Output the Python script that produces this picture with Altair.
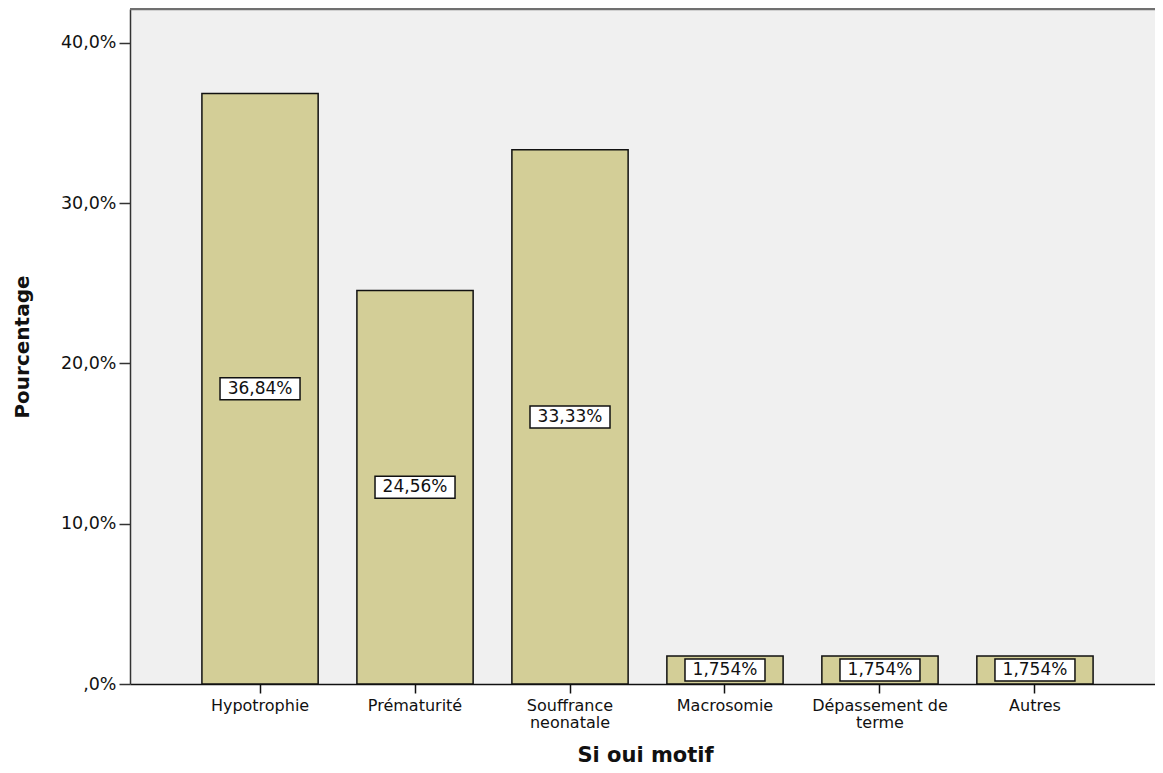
import altair as alt
import pandas as pd

categories = ["Hypotrophie", "Prématurité", "Souffrance\nneonatale",
              "Macrosomie", "Dépassement de\nterme", "Autres"]
percentages = [36.84, 24.56, 33.33, 1.754, 1.754, 1.754]
value_labels = ["36,84%", "24,56%", "33,33%", "1,754%", "1,754%", "1,754%"]
y_ticks = [0, 10, 20, 30, 40]

df = pd.DataFrame({"cat": categories, "pct": percentages, "lab": value_labels})

FONT = "DejaVu Sans"
W, H = 1025, 675
YMAX = 42.12

xscale = alt.Scale(range=[0, 1035], paddingInner=0.25, paddingOuter=0.464)
yscale = alt.Scale(domain=[0, YMAX], nice=False)

xenc = alt.X("cat:N", sort=categories, scale=xscale,
             axis=alt.Axis(title="Si oui motif", labelAngle=0,
                           labelExpr="split(datum.label, '\\n')",
                           labelFont=FONT, labelFontSize=16, labelColor="#111",
                           labelLineHeight=17.5, labelPadding=4,
                           tickSize=9, tickColor="#111", tickWidth=1.5,
                           domainColor="#111", domainWidth=1.5,
                           titleFont=FONT, titleFontSize=21, titleFontWeight="bold",
                           titleColor="#111", titleX=515, titleY=71,
                           titleBaseline="middle", titleAnchor="middle"))

bars = alt.Chart(df).mark_bar(color="#D3CE97", stroke="#111", strokeWidth=1.5).encode(
    x=xenc,
    y=alt.Y("pct:Q", scale=yscale,
            axis=alt.Axis(title="Pourcentage", values=y_ticks, grid=False,
                          labelExpr="datum.value == 0 ? ',0%' : replace(format(datum.value, '.1f'), '.', ',') + '%'",
                          labelFont=FONT, labelFontSize=17.5, labelColor="#111",
                          labelPadding=3, tickSize=11, tickColor="#333", tickWidth=1.5,
                          domainColor="#333", domainWidth=1.5,
                          titleFont=FONT, titleFontSize=20, titleFontWeight="bold",
                          titleColor="#111", titleAngle=-90, titleX=-108, titleY=H / 2,
                          titleBaseline="middle", titleAnchor="middle")),
)

box_path = "M-1,-0.275L1,-0.275L1,0.275L-1,0.275Z"
boxes = alt.Chart(df).transform_calculate(mid="datum.pct / 2").mark_point(
    shape=box_path, size=80 * 80, filled=True, fill="white", stroke="#111",
    strokeWidth=1.5, opacity=1).encode(
    x=alt.X("cat:N", sort=categories, scale=xscale),
    y=alt.Y("mid:Q", scale=yscale),
)

texts = alt.Chart(df).transform_calculate(mid="datum.pct / 2").mark_text(
    font=FONT, fontSize=17, color="#111", baseline="middle", align="center").encode(
    x=alt.X("cat:N", sort=categories, scale=xscale),
    y=alt.Y("mid:Q", scale=yscale),
    text="lab:N",
)

top_border = alt.Chart(pd.DataFrame({"a": [0]})).mark_rule(
    color="#707070", strokeWidth=2.5).encode(
    x=alt.value(0), x2=alt.value(W), y=alt.value(0))

chart = alt.layer(bars, boxes, texts, top_border).properties(
    width=W, height=H, autosize="none",
    padding={"left": 122, "top": 1, "right": 0, "bottom": 82},
    background="white",
).configure_view(fill="#F0F0F0", strokeWidth=0)

chart.save("out.html", embed_options={"renderer": "svg", "actions": False})
